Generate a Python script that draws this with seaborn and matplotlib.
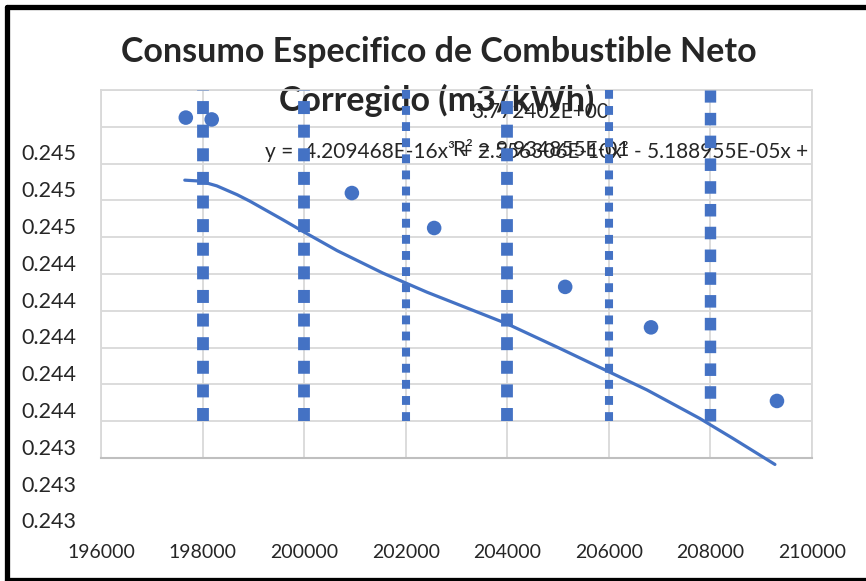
import numpy as np
import pandas as pd
import seaborn as sns
import matplotlib.pyplot as plt
from matplotlib.lines import Line2D
from matplotlib.transforms import ScaledTranslation

# data
gen_kwh = [197670, 198180, 200940, 202560, 205140, 206830, 209310]
consumo = [0.24485, 0.24484, 0.24444, 0.24425, 0.24393, 0.24371, 0.24331]

trend_x = [197650, 197950, 198280, 198680, 198930, 199580, 199980, 200650, 201550,
           202420, 203990, 205040, 205960, 206750, 207790, 208440, 209270]
trend_y = [0.244510, 0.244505, 0.244479, 0.244431, 0.244396, 0.244295, 0.244231, 0.244127,
           0.244005, 0.243901, 0.243730, 0.243595, 0.243474, 0.243370, 0.243215, 0.243107,
           0.242965]

x_ticks = [196000, 198000, 200000, 202000, 204000, 206000, 208000, 210000]
y_ticks = [0.2450, 0.2448, 0.2446, 0.2444, 0.2442, 0.2440, 0.2438, 0.2436, 0.2434, 0.2432, 0.2430]
y_labels = ["0.245", "0.245", "0.245", "0.244", "0.244", "0.244", "0.244", "0.244",
            "0.243", "0.243", "0.243"]

dotted_x = [198000, 200000, 202000, 204000, 206000, 208000]

title1 = "Consumo Especifico de Combustible Neto"
title2 = "Corregido (m3/kWh)"
eq_text = "y =  4.209468E-16x³ + 2.556306E-10x² - 5.188955E-05x +"
r2_text = "R² = 9.934855E-01"
const_text = "3.772402E+00"

sns.set_style("white")
plt.rcParams["font.family"] = ["Lato", "DejaVu Sans"]

blue = "#4472C4"
W, H = 866, 581
fig = plt.figure(figsize=(W / 100, H / 100), dpi=100)
ax = fig.add_axes([101 / W, 1 - 458 / H, 711 / W, 368 / H])

df = pd.DataFrame({"x": gen_kwh, "y": consumo})
sns.scatterplot(data=df, x="x", y="y", ax=ax, color=blue, s=110, edgecolor="none", zorder=4)

sns.lineplot(x=trend_x, y=trend_y, ax=ax, color=blue, linewidth=2.3,
             sort=False, estimator=None, zorder=4)
for ln in ax.get_lines():
    ln.set_clip_on(False)

ax.set_xlim(196000, 210000)
ax.set_ylim(0.2430, 0.2450)
ax.set_xticks(x_ticks)
ax.set_xticklabels([str(v) for v in x_ticks])
ax.set_yticks(y_ticks)
ax.set_yticklabels([])
ax.grid(True, color="#D9D9D9", linewidth=1.3, zorder=0)
ax.set_axisbelow(True)
ax.tick_params(axis="both", length=0)
ax.tick_params(axis="x", labelsize=14, pad=62)
ax.set_xlabel("")
ax.set_ylabel("")
for side in ["top", "right", "left"]:
    ax.spines[side].set_color("#D9D9D9")
    ax.spines[side].set_linewidth(1.3)
ax.spines["bottom"].set_color("#BFBFBF")
ax.spines["bottom"].set_linewidth(1.5)

# y labels sit lower than their gridlines in the original
off = ScaledTranslation(0, -0.645, fig.dpi_scale_trans)
for v, lab in zip(y_ticks, y_labels):
    ax.text(-0.034, v, lab, transform=ax.get_yaxis_transform() + off,
            ha="right", va="center", fontsize=15.5, clip_on=False)

# thick dotted verticals
widths = [8.5, 8.5, 5.8, 8.5, 5.8, 8.2]
for xv, lw in zip(dotted_x, widths):
    ax.vlines(xv, 0.2432, 0.2450, colors=blue, linewidth=lw,
              linestyles=(0, (1.1, 0.9)), zorder=3)

# texts
fig.text(439 / W, 1 - 52 / H, title1, ha="center", va="center",
         fontsize=24.5, fontweight="bold")
ax.text(437 / W, 1 - 100 / H, title2, transform=fig.transFigure, ha="center",
        va="center", fontsize=24.5, fontweight="bold", zorder=2.5, clip_on=False)
ax.text(265 / W, 1 - 152 / H, eq_text, transform=fig.transFigure, ha="left",
        va="center", fontsize=15, zorder=2.5, clip_on=False)
ax.text(453 / W, 1 - 150 / H, r2_text, transform=fig.transFigure, ha="left",
        va="center", fontsize=15, zorder=2.5, clip_on=False)
ax.text(540 / W, 1 - 112 / H, const_text, transform=fig.transFigure, ha="center",
        va="center", fontsize=15, zorder=2.5, clip_on=False)

# outer border (left, top, bottom)
for xs, ys in [([6.5, 6.5], [6.5, 580]), ([6.5, 866], [6.5, 6.5]), ([6.5, 866], [580, 580])]:
    fig.add_artist(Line2D([x / W for x in xs], [1 - y / H for y in ys],
                          color="black", linewidth=3.8, transform=fig.transFigure))

fig.savefig("out.png", dpi=100, facecolor="white")
